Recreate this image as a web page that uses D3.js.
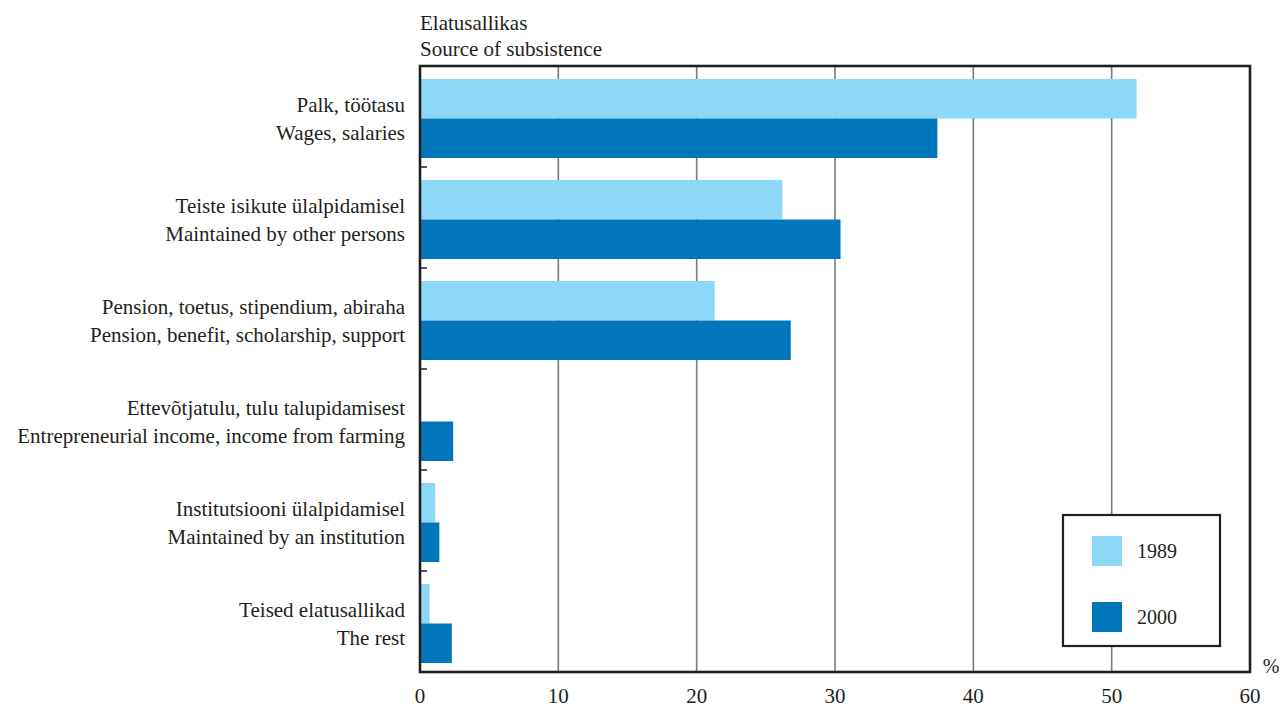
<!DOCTYPE html>
<html><head><meta charset="utf-8">
<script src="https://cdn.jsdelivr.net/npm/d3@7"></script>
<style>body{margin:0;background:#fff}svg{display:block}</style>
</head><body><svg id="c" width="1283" height="708"></svg>
<script>
const categoriesEt = ["Palk, töötasu","Teiste isikute ülalpidamisel","Pension, toetus, stipendium, abiraha","Ettevõtjatulu, tulu talupidamisest","Institutsiooni ülalpidamisel","Teised elatusallikad"];
const categoriesEn = ["Wages, salaries","Maintained by other persons","Pension, benefit, scholarship, support","Entrepreneurial income, income from farming","Maintained by an institution","The rest"];
const series = ["1989","2000"];
const values1989 = [51.8, 26.2, 21.3, 0, 1.1, 0.7];
const values2000 = [37.4, 30.4, 26.8, 2.4, 1.4, 2.3];
const xTicks = [0,10,20,30,40,50,60];
const colors = ["#8ed8f7","#0077ba"];

const FONT = "'Liberation Serif'";
const INK = "#231f20";
const svg = d3.select("#c");
const L=420,R=1250,T=66,B=672;
const x = d3.scaleLinear().domain([0,60]).range([L,R]);
const y = d3.scaleBand().domain(d3.range(categoriesEt.length)).range([T,B]);
const inner = d3.scaleBand().domain(series).range([13,92]);
const vals = [values1989, values2000];

function txt(g, xx, yy, s, size, anchor){
  return g.append("text").attr("x",xx).attr("y",yy).text(s)
    .style("font-family",FONT).style("font-size",size+"px")
    .style("fill",INK).attr("text-anchor",anchor||"start");
}

svg.append("g").selectAll("line").data(xTicks.slice(1,-1)).join("line")
  .attr("x1",d=>x(d)).attr("x2",d=>x(d)).attr("y1",T).attr("y2",B)
  .attr("stroke","#7a7a7a").attr("stroke-width",1.6);

series.forEach((s,si)=>{
  svg.append("g").selectAll("rect").data(vals[si]).join("rect")
    .attr("x",x(0)).attr("y",(d,i)=>y(i)+inner(s))
    .attr("width",d=>x(d)-x(0)).attr("height",inner.bandwidth())
    .attr("fill",colors[si]);
});

svg.append("g").selectAll("line").data(d3.range(1,categoriesEt.length)).join("line")
  .attr("x1",L).attr("x2",L+7).attr("y1",d=>y(d)).attr("y2",d=>y(d))
  .attr("stroke",INK).attr("stroke-width",1.5);

svg.append("rect").attr("x",L).attr("y",T).attr("width",R-L).attr("height",B-T)
  .attr("fill","none").attr("stroke",INK).attr("stroke-width",2.6);

const lab = svg.append("g");
categoriesEt.forEach((c,i)=>{
  const cy = y(i)+13+39.5;
  txt(lab,405,cy-6.5,c,21,"end");
  txt(lab,405,cy+21.5,categoriesEn[i],21,"end");
});

const tk = svg.append("g");
xTicks.forEach(d=>txt(tk,x(d),703,d,21,"middle"));
txt(svg,1271,673,"%",20,"middle");

txt(svg,L,30,"Elatusallikas",21);
txt(svg,L,56,"Source of subsistence",21);

const lg = svg.append("g");
lg.append("rect").attr("x",1063).attr("y",515).attr("width",157).attr("height",131)
  .attr("fill","#fff").attr("stroke",INK).attr("stroke-width",2.2);
series.forEach((s,i)=>{
  lg.append("rect").attr("x",1092).attr("y",536+i*66).attr("width",30).attr("height",30).attr("fill",colors[i]);
  txt(lg,1137,558+i*65.5,s,20);
});
</script></body></html>
